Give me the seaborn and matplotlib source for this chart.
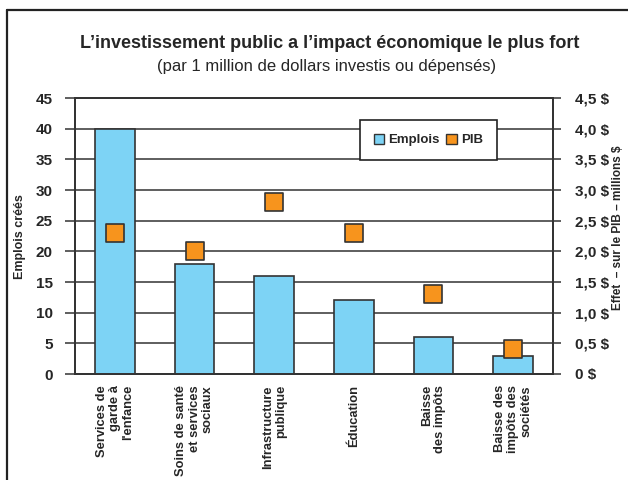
import matplotlib
matplotlib.use("Agg")
import matplotlib.pyplot as plt
import seaborn as sns
import pandas as pd
from matplotlib.patches import Patch
from matplotlib.lines import Line2D

categories = ["Services de\ngarde à\nl'enfance",
              "Soins de santé\net services\nsociaux",
              "Infrastructure\npublique",
              "Éducation",
              "Baisse\ndes impôts",
              "Baisse des\nimpôts des\nsociétés"]
emplois = [40, 18, 16, 12, 6, 3]
pib = [2.3, 2.0, 2.8, 2.3, 1.3, 0.4]
left_ticks = [0, 5, 10, 15, 20, 25, 30, 35, 40, 45]
right_ticks = [0, 0.5, 1.0, 1.5, 2.0, 2.5, 3.0, 3.5, 4.0, 4.5]
right_labels = ["0 $", "0,5 $", "1,0 $", "1,5 $", "2,0 $", "2,5 $", "3,0 $", "3,5 $", "4,0 $", "4,5 $"]

sns.set_theme(style="white")
plt.rcParams['font.family'] = ['Liberation Sans', 'DejaVu Sans']

df = pd.DataFrame({"cat": categories, "emplois": emplois, "pib": pib})

W, H = 628, 480
fig = plt.figure(figsize=(W/100, H/100), dpi=100)
ax = fig.add_axes([75/W, 1-374/H, (553-75)/W, (374-98)/H])

BLUE = "#7DD3F5"
ORANGE = "#F7941D"
EDGE = "#333333"
GRID = "#333333"

sns.barplot(data=df, x="cat", y="emplois", ax=ax, color=BLUE, width=0.5,
            edgecolor=EDGE, linewidth=1.2, saturation=1, zorder=3)
ax.set_xlim(-0.5, 5.5)
ax.set_ylim(0, 45)
ax.set_yticks(left_ticks)
ax.set_yticklabels([str(t) for t in left_ticks], fontsize=11, fontweight='bold')
ax.yaxis.grid(True, color=GRID, linewidth=1.1, zorder=0)
ax.set_axisbelow(True)
ax.tick_params(axis='y', which='major', direction='out', length=7, width=1.1,
               color=GRID, pad=9, left=True)
ax.tick_params(axis='x', length=0, pad=8)
ax.set_xticks(range(len(categories)))
ax.set_xticklabels(categories, rotation=90, fontsize=9.3, fontweight='bold',
                   ha='center', va='top', multialignment='right', linespacing=1.12)
ax.set_xlabel("")
ax.set_ylabel("")
for s in ax.spines.values():
    s.set_color(GRID)
    s.set_linewidth(1.3)

ax2 = ax.twinx()
sns.scatterplot(data=df, x="cat", y="pib", ax=ax2, marker='s', s=170,
                color=ORANGE, edgecolor=EDGE, linewidth=1.2, zorder=5, legend=False)
ax2.set_xlim(-0.5, 5.5)
ax2.set_ylim(0, 4.5)
ax2.set_yticks(right_ticks)
ax2.set_yticklabels(right_labels, fontsize=11, fontweight='bold')
ax2.tick_params(axis='y', which='major', direction='out', length=6, width=1.1,
                color=GRID, pad=10, right=True)
ax2.set_ylabel("")
ax2.set_xlabel("")
for s in ax2.spines.values():
    s.set_color(GRID)
    s.set_linewidth(1.3)

handles = [Patch(facecolor=BLUE, edgecolor=EDGE, linewidth=1.0, label="Emplois"),
           Patch(facecolor=ORANGE, edgecolor=EDGE, linewidth=1.0, label="PIB")]
leg = ax2.legend(handles=handles, ncol=2, loc='upper left',
                 bbox_to_anchor=((360-75)/478, (374-120)/276),
                 borderaxespad=0, fancybox=False, framealpha=1, edgecolor='#222222',
                 prop={'weight': 'bold', 'size': 9.5}, handlelength=0.8, handleheight=0.8,
                 handletextpad=0.3, columnspacing=0.5, borderpad=1.05)
leg.get_frame().set_linewidth(1.2)
leg.set_zorder(10)

fig.text(20/W, 1-237/H, "Emplois créés", rotation=90, ha='center', va='center',
         fontsize=9, fontweight='bold')
fig.text(618/W, 1-228/H, "Effet  – sur le PIB – millions $", rotation=90, ha='center',
         va='center', fontsize=8.5, fontweight='bold')

fig.text(330/W, 1-48/H, "L’investissement public a l’impact économique le plus fort",
         ha='center', va='baseline', fontsize=13, fontweight='bold')
fig.text(327/W, 1-71/H, "(par 1 million de dollars investis ou dépensés)",
         ha='center', va='baseline', fontsize=12)

# outer frame (left and top edges visible)
fig.add_artist(Line2D([7/W, 7/W], [0, 1-10/H], color='#222222', linewidth=1.6,
                      transform=fig.transFigure))
fig.add_artist(Line2D([7/W, 1], [1-10/H, 1-10/H], color='#222222', linewidth=1.6,
                      transform=fig.transFigure))

fig.savefig("out.png", dpi=100)
